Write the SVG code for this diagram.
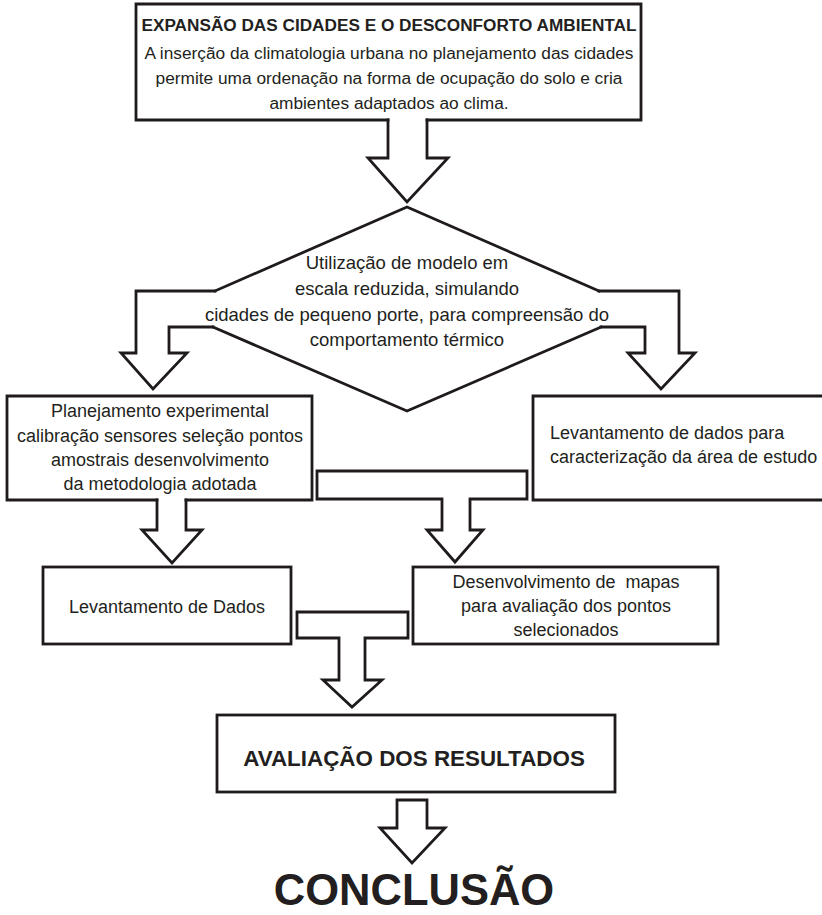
<svg xmlns="http://www.w3.org/2000/svg" width="822" height="915" viewBox="0 0 822 915">
<style>
  .ln { fill: none; stroke: #1f1b1c; stroke-width: 2.8; stroke-linejoin: miter; stroke-linecap: square; }
  .t { font-family: "Liberation Sans", Arial, sans-serif; fill: #231f20; text-anchor: middle; font-size: 18px; }
  .tl { text-anchor: start; }
  .b { font-weight: bold; }
</style>
<rect width="822" height="915" fill="#ffffff"/>
<g id="connectors">
  <polyline class="ln" points="388,120 388,158 368,158 407,202 448,158 427,158 427,120"/>
  <polyline class="ln" points="215,291 136,291 136,353 121,353 153,389 187,353 169,353 169,327 213,327"/>
  <polyline class="ln" points="599,291 679,291 679,353 695,353 661,389 628,353 645,353 645,327 601,327"/>
  <polyline class="ln" points="157,500 157,530 142,530 172,563 202,530 186,530 186,500"/>
  <polygon class="ln" points="317,471 527,471 527,499 470,499 470,530 483,530 455,562 427,530 442,530 442,499 317,499"/>
  <polygon class="ln" points="297,612 408,612 408,638 365,638 365,680 382,680 352,707 323,680 339,680 339,638 297,638"/>
  <polygon class="ln" points="397,800 427,800 427,828 445,828 412,863 380,828 397,828"/>
</g>
<g id="node-expansao">
  <path class="ln" d="M388,120 H136 V4 H641 V120 H427"/>
  <text class="t b" x="389" y="31" style="font-size:17.2px">EXPANSÃO DAS CIDADES E O DESCONFORTO AMBIENTAL</text>
  <text class="t" x="389" y="59" style="font-size:17.3px">A inserção da climatologia urbana no planejamento das cidades</text>
  <text class="t" x="389" y="84" style="font-size:17.3px">permite uma ordenação na forma de ocupação do solo e cria</text>
  <text class="t" x="389" y="109" style="font-size:17.3px">ambientes adaptados ao clima.</text>
</g>
<g id="node-modelo">
  <path class="ln" d="M215,291 L407,207 L599,291 M213,327 L407,411 L601,327"/>
  <text class="t" x="407" y="269" style="font-size:18.5px">Utilização de modelo em</text>
  <text class="t" x="407" y="295" style="font-size:18.5px">escala reduzida, simulando</text>
  <text class="t" x="407" y="321" style="font-size:18.5px">cidades de pequeno porte, para compreensão do</text>
  <text class="t" x="407" y="346" style="font-size:18.5px">comportamento térmico</text>
</g>
<g id="node-planejamento">
  <path class="ln" d="M157,500 H7 V396 H312 V500 H186"/>
  <text class="t" x="160" y="417">Planejamento experimental</text>
  <text class="t" x="160" y="442">calibração sensores seleção pontos</text>
  <text class="t" x="160" y="466">amostrais desenvolvimento</text>
  <text class="t" x="160" y="490">da metodologia adotada</text>
</g>
<g id="node-caracterizacao">
  <path class="ln" d="M825,396 H533 V500 H825"/>
  <text class="t tl" x="550" y="439">Levantamento de dados para</text>
  <text class="t tl" x="550" y="463">caracterização da área de estudo</text>
</g>
<g id="node-levantamento">
  <rect class="ln" x="43" y="567" width="248" height="77"/>
  <text class="t" x="167" y="613">Levantamento de Dados</text>
</g>
<g id="node-mapas">
  <rect class="ln" x="413" y="567" width="305" height="77"/>
  <text class="t" x="566" y="588" xml:space="preserve">Desenvolvimento de  mapas</text>
  <text class="t" x="566" y="612">para avaliação dos pontos</text>
  <text class="t" x="566" y="636">selecionados</text>
</g>
<g id="node-resultados">
  <rect class="ln" x="217" y="715" width="398" height="77"/>
  <text class="t b" x="414" y="766" style="font-size:22.4px">AVALIAÇÃO DOS RESULTADOS</text>
</g>
<g id="node-conclusao">
  <text class="t b" x="414" y="905" style="font-size:43.5px">CONCLUSÃO</text>
</g>
</svg>
